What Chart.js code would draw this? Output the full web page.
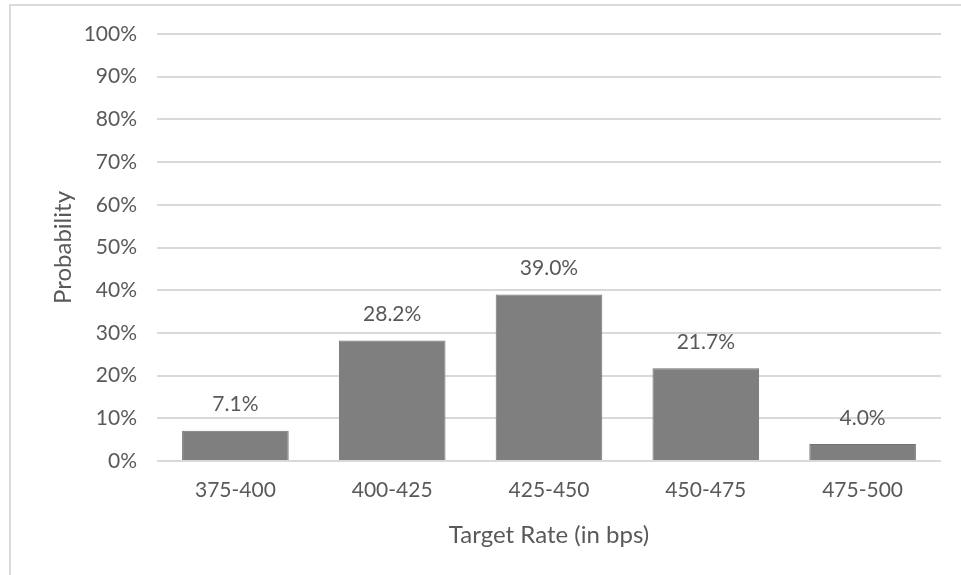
<!DOCTYPE html>
<html>
<head>
<meta charset="utf-8">
<script src="https://cdn.jsdelivr.net/npm/chart.js@4"></script>
<style>
    html, body { margin: 0; padding: 0; background: #fff; }
    #wrap { position: relative; width: 961px; height: 575px; }
    #frame {
        position: absolute; left: 9px; top: 4px; right: 0; bottom: 0;
        border-left: 2px solid #dadada; border-top: 2px solid #dadada;
        pointer-events: none;
    }
</style>
</head>
<body>
<div id="wrap">
    <canvas id="chart" width="961" height="575"></canvas>
    <div id="frame"></div>
</div>
<script>
// Chart data
const categories = ["375-400", "400-425", "425-450", "450-475", "475-500"];
const probabilities = [7.1, 28.2, 39.0, 21.7, 4.0];
const yTicks = [0, 10, 20, 30, 40, 50, 60, 70, 80, 90, 100];

const textColor = "#595959";
const fontFamily = "Lato, 'Open Sans', sans-serif";

// Draw value labels above each bar
const valueLabels = {
    id: "valueLabels",
    afterDatasetsDraw(chart) {
        const ctx = chart.ctx;
        const meta = chart.getDatasetMeta(0);
        ctx.save();
        ctx.fillStyle = textColor;
        ctx.font = "21px " + fontFamily;
        ctx.textAlign = "center";
        ctx.textBaseline = "middle";
        meta.data.forEach((bar, i) => {
            ctx.fillText(probabilities[i].toFixed(1) + "%", bar.x, bar.y - 26);
        });
        ctx.restore();
    }
};

new Chart(document.getElementById("chart"), {
    type: "bar",
    data: {
        labels: categories,
        datasets: [{
            data: probabilities,
            backgroundColor: "#7f7f7f",
            borderColor: "#727272",
            borderWidth: 1,
            categoryPercentage: 1,
            barPercentage: 0.68
        }]
    },
    options: {
        responsive: false,
        animation: false,
        layout: { padding: { top: 34, right: 20, left: 0, bottom: 0 } },
        plugins: {
            legend: { display: false },
            tooltip: { enabled: false }
        },
        scales: {
            x: {
                grid: { display: false, drawTicks: false },
                border: { display: false },
                ticks: { color: textColor, font: { family: fontFamily, size: 21 }, padding: 17 },
                title: {
                    display: true,
                    text: "Target Rate (in bps)",
                    color: textColor,
                    font: { family: fontFamily, size: 24 },
                    padding: { bottom: 25 }
                },
                afterFit: s => { s.height = 114; }
            },
            y: {
                min: 0,
                max: 100,
                afterBuildTicks: s => { s.ticks = yTicks.map(v => ({ value: v })); },
                grid: { color: "#d9d9d9", lineWidth: 2, drawTicks: false },
                border: { display: false },
                ticks: {
                    color: textColor,
                    font: { family: fontFamily, size: 21 },
                    padding: 20,
                    callback: v => v + "%"
                },
                title: {
                    display: true,
                    text: "Probability",
                    color: textColor,
                    font: { family: fontFamily, size: 24 },
                    padding: { top: 49 }
                },
                afterFit: s => { s.width = 157; }
            }
        }
    },
    plugins: [valueLabels]
});
</script>
</body>
</html>
